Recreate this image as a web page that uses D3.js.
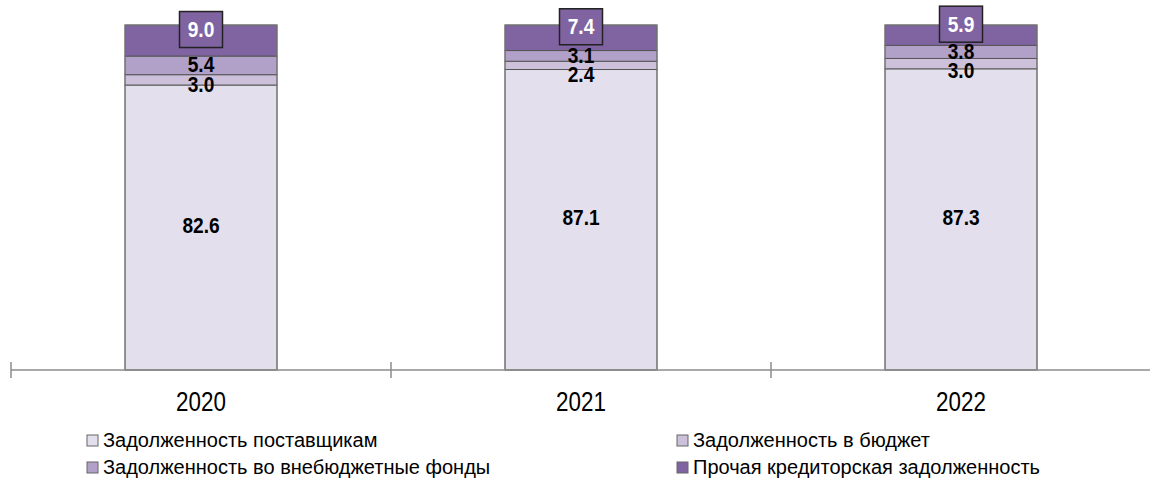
<!DOCTYPE html>
<html><head><meta charset="utf-8">
<script src="https://cdn.jsdelivr.net/npm/d3@7"></script>
<style>
body{margin:0;background:#fff;}
svg{display:block;}
</style></head>
<body>
<svg id="chart" width="1150" height="482"></svg>
<script>
const years = ["2020", "2021", "2022"];
const seriesNames = ["Задолженность поставщикам", "Задолженность в бюджет", "Задолженность во внебюджетные фонды", "Прочая кредиторская задолженность"];
const suppliers = [82.6, 87.1, 87.3];
const budget = [3.0, 2.4, 3.0];
const funds = [5.4, 3.1, 3.8];
const other = [9.0, 7.4, 5.9];
const colors = ["#E4DFEC", "#CCC0DA", "#B1A0C7", "#8064A2"];

const svg = d3.select("#chart");
const font = '"Liberation Sans", Arial, sans-serif';

const x = d3.scaleBand().domain(years).range([11, 1151]).paddingInner(0).paddingOuter(0);
const y = d3.scaleLinear().domain([0, 100]).range([370, 25]);
const barW = x.bandwidth() * 0.4;

const seriesVals = [suppliers, budget, funds, other];
const table = years.map((yr, i) => {
  const o = {year: yr};
  seriesNames.forEach((s, k) => o[s] = seriesVals[k][i]);
  return o;
});
const stack = d3.stack().keys(seriesNames)(table);

// bars
stack.forEach((layer, k) => {
  svg.append("g").selectAll("rect").data(layer).join("rect")
    .attr("x", d => x(d.data.year) + (x.bandwidth() - barW) / 2)
    .attr("y", d => y(d[1]))
    .attr("width", barW)
    .attr("height", d => y(d[0]) - y(d[1]))
    .attr("fill", colors[k])
    .attr("stroke", "#555")
    .attr("stroke-width", 1);
});
svg.append("g").selectAll("rect").data(stack[0]).join("rect")
  .attr("x", d => x(d.data.year) + (x.bandwidth() - barW) / 2)
  .attr("y", (d, i) => y(stack[3][i][1]))
  .attr("width", barW)
  .attr("height", (d, i) => y(0) - y(stack[3][i][1]))
  .attr("fill", "none").attr("stroke", "#7f7f7f").attr("stroke-width", 1);

// helper: condensed text
function ntext(g, tx, ty, str, size, weight, fill, sx) {
  g.append("g").attr("transform", `translate(${tx},${ty}) scale(${sx},1)`)
    .append("text").attr("x", 0).attr("y", 0).attr("dy", "0.35em")
    .attr("text-anchor", "middle")
    .style("font-family", font).style("font-size", size + "px").style("font-weight", weight)
    .attr("fill", fill).text(str);
}

// axis
const axisG = svg.append("g").attr("transform", "translate(0,370)");
axisG.append("line").attr("x1", 11).attr("x2", 1151).attr("stroke", "#8c8c8c").attr("stroke-width", 1.5);
const tickPos = years.map(yv => x(yv)).concat([x(years[years.length - 1]) + x.bandwidth()]);
axisG.selectAll("line.tick").data(tickPos).join("line").attr("class", "tick")
  .attr("x1", d => d).attr("x2", d => d).attr("y1", -8).attr("y2", 8)
  .attr("stroke", "#8c8c8c").attr("stroke-width", 1.5);
years.forEach(yr => ntext(svg, x(yr) + x.bandwidth() / 2, 401, yr, 28, "normal", "#000", 0.8));

// labels
const cx = yr => x(yr) + x.bandwidth() / 2;
const lab = svg.append("g");
years.forEach((yr, i) => {
  const seg = k => (y(stack[k][i][0]) + y(stack[k][i][1])) / 2;
  ntext(lab, cx(yr), seg(0) - 2, suppliers[i].toFixed(1), 22, "bold", "#000", 0.87);
  const fy = seg(2) - 1;
  ntext(lab, cx(yr), fy, funds[i].toFixed(1), 22, "bold", "#000", 0.87);
  const by = Math.max(seg(1), fy + 19.5);
  ntext(lab, cx(yr), by, budget[i].toFixed(1), 22, "bold", "#000", 0.87);
  const oy = seg(3) - 11;
  lab.append("rect").attr("x", cx(yr) - 21.5).attr("y", oy - 18).attr("width", 43).attr("height", 36)
    .attr("fill", colors[3]).attr("stroke", "#222").attr("stroke-width", 1.5);
  ntext(lab, cx(yr), oy, other[i].toFixed(1), 22, "bold", "#fff", 0.87);
});

// legend
const legendPos = [[87, 440], [677, 440], [87, 467], [677, 467]];
const lg = svg.append("g").style("font-family", font).style("font-size", "20px");
seriesNames.forEach((s, k) => {
  const [lx, ly] = legendPos[k];
  lg.append("rect").attr("x", lx).attr("y", ly - 5).attr("width", 11).attr("height", 11)
    .attr("fill", colors[k]).attr("stroke", "#666").attr("stroke-width", 1);
  lg.append("text").attr("x", lx + 16).attr("y", ly).attr("dy", "0.35em").attr("fill", "#000").text(s);
});
</script>
</body></html>
